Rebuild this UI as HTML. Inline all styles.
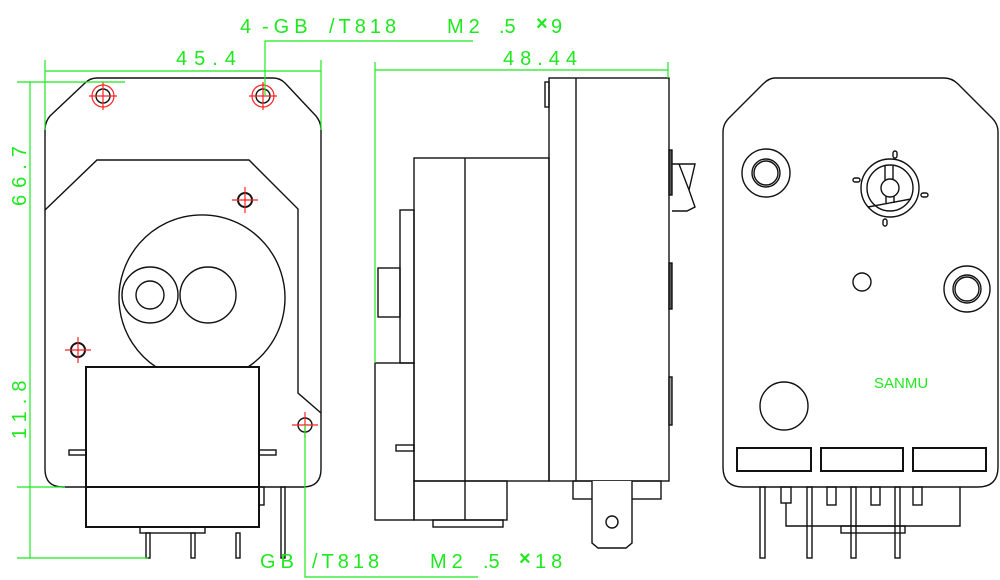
<!DOCTYPE html>
<html><head><meta charset="utf-8"><style>
html,body{margin:0;padding:0;background:#fff}
svg{display:block}
text{font-family:"Liberation Sans",sans-serif;fill:#1ee81e}
</style></head><body>
<svg width="1000" height="580" viewBox="0 0 1000 580" xmlns="http://www.w3.org/2000/svg">
<g fill="none" stroke="#111" stroke-width="1.4">
<path d="M97,78 L273,78 Q280,78 285,83 L316,116 Q321,122 321,130 L321,469 Q321,487 303,487 L63,487 Q45,487 45,469 L45,130 Q45,122 50,116 L85,83 Q90,78 97,78 Z"/>
<path d="M45,210 L97,160 L249,160 L298,209 L298,393 L321,413"/>
<path d="M156,367 A83,83 0 1 1 248,367"/>
<circle cx="150" cy="295" r="28"/><circle cx="150" cy="295" r="14"/>
<circle cx="208" cy="295" r="28"/>
<rect x="86" y="367" width="173" height="160" stroke-width="2"/>
<line x1="86" y1="487" x2="259" y2="487" stroke-width="2"/>
<rect x="69" y="450" width="17" height="5"/><rect x="259" y="450" width="17" height="5"/>
<rect x="259" y="487" width="5" height="18"/>
<rect x="140" y="527" width="65" height="6"/>
<rect x="146" y="533" width="4" height="25"/><rect x="191" y="533" width="4" height="25"/><rect x="236" y="533" width="4" height="25"/>
<rect x="281" y="487" width="4" height="71"/>
<circle cx="103" cy="96" r="7"/><circle cx="263" cy="96" r="7"/>
<circle cx="245" cy="200" r="7" stroke-width="2"/><circle cx="78" cy="350" r="7" stroke-width="2"/><circle cx="305" cy="425" r="7"/>
<rect x="549" y="78" width="120" height="403"/><line x1="576" y1="78" x2="576" y2="481"/>
<rect x="545" y="82" width="4" height="25"/>
<rect x="414" y="158" width="135" height="323"/><line x1="465" y1="158" x2="465" y2="520"/>
<rect x="400" y="210" width="14" height="153"/>
<rect x="378" y="268" width="22" height="49"/>
<rect x="375" y="363" width="39" height="157"/>
<rect x="414" y="481" width="93" height="39"/>
<rect x="433" y="520" width="70" height="7"/>
<rect x="396" y="445" width="18" height="6"/>
<rect x="573" y="481" width="88" height="18"/>
<path d="M592,481 L592,543 L598,548 L626,548 L632,543 L632,481" fill="#fff"/>
<circle cx="612" cy="522" r="6"/>
<rect x="669" y="150" width="3" height="45" fill="#555"/>
<path d="M672,164 L695,164 L689,190 L695,207 L687,211 L672,211 M679,164 L689,190"/>
<rect x="669" y="263" width="3" height="46" fill="#555"/>
<rect x="669" y="377" width="3" height="48" fill="#999"/>
<path d="M775,78 L944,78 Q952,78 958,84 L992,118 Q998,124 998,132 L998,467 Q998,487 978,487 L743,487 Q723,487 723,467 L723,132 Q723,124 729,118 L763,84 Q769,78 775,78 Z"/>
<circle cx="766" cy="173" r="24"/><circle cx="766" cy="173" r="14"/><circle cx="766" cy="173" r="12"/>
<circle cx="967" cy="289" r="23"/><circle cx="967" cy="289" r="14"/><circle cx="967" cy="289" r="12"/>
<circle cx="862" cy="282" r="9"/>
<circle cx="784" cy="406" r="24"/>
<circle cx="890" cy="188" r="29"/><circle cx="890" cy="188" r="23"/><circle cx="890" cy="188" r="9"/>
<path d="M885,166 L885,180 M893,166 L893,180 M886,196 L886,203 M894,196 L894,203 M868,207 L911,199"/>
<rect x="893" y="151" width="4" height="7" rx="2"/><rect x="853" y="178" width="7" height="4" rx="2"/><rect x="921" y="193" width="7" height="4" rx="2"/><rect x="883" y="219" width="4" height="7" rx="2"/>
<rect x="737" y="448" width="74" height="23" stroke-width="2"/><rect x="821" y="448" width="82" height="23" stroke-width="2"/><rect x="913" y="448" width="73" height="23" stroke-width="2"/>
<rect x="760" y="487" width="5" height="71"/><rect x="807" y="487" width="5" height="71"/><rect x="851" y="487" width="5" height="71"/><rect x="895" y="487" width="5" height="71"/>
<rect x="781" y="487" width="10" height="16"/><rect x="827" y="487" width="9" height="18"/><rect x="871" y="487" width="9" height="18"/><rect x="913" y="487" width="9" height="18"/>
<path d="M786,503 L786,526 L960,526 L960,487"/>
<rect x="841" y="526" width="64" height="7"/>
</g>
<g fill="none" stroke="#f22" stroke-width="1.2">
<circle cx="103" cy="96" r="11"/><circle cx="263" cy="96" r="11"/>
<path d="M89,96 H117 M103,82 V110 M249,96 H277 M263,82 V110 M232,200 H258 M245,187 V213 M65,350 H91 M78,337 V363 M292,425 H318 M305,412 V438"/>
</g>
<g fill="none" stroke="#1ee81e" stroke-width="1.2">
<path d="M45,71 H321 M45,60 V130 M321,60 V130"/>
<path d="M30,82 V558 M17,82 H125 M17,487 H65 M17,558 H148"/>
<path d="M265,96 V41 H473"/>
<path d="M305,425 V577 H478"/>
<path d="M375,70 H668 M375,62 V363 M668,62 V78"/>
</g>
<g font-size="20">
<text x="176" y="65" letter-spacing="7">45.4</text>
<text x="503" y="65" letter-spacing="6">48.44</text>
<text transform="translate(26,206) rotate(-90)" letter-spacing="7">66.7</text>
<text transform="translate(26,439) rotate(-90)" letter-spacing="7">11.8</text>
<text x="240" y="33">4</text><text x="262" y="33" letter-spacing="5">-GB</text>
<text x="329" y="33" letter-spacing="4">/T818</text><text x="447" y="33" letter-spacing="5">M2</text>
<text x="499" y="33">.5</text><text x="536" y="30" font-weight="bold">×</text><text x="551" y="33">9</text>
<text x="260" y="568" letter-spacing="5">GB</text><text x="312" y="568" letter-spacing="4">/T818</text>
<text x="430" y="568" letter-spacing="5">M2</text><text x="483" y="568">.5</text>
<text x="519" y="565" font-weight="bold">×</text><text x="535" y="568" letter-spacing="5">18</text>
</g>
<text x="874" y="388" font-size="15">SANMU</text>
</svg>
</body></html>
